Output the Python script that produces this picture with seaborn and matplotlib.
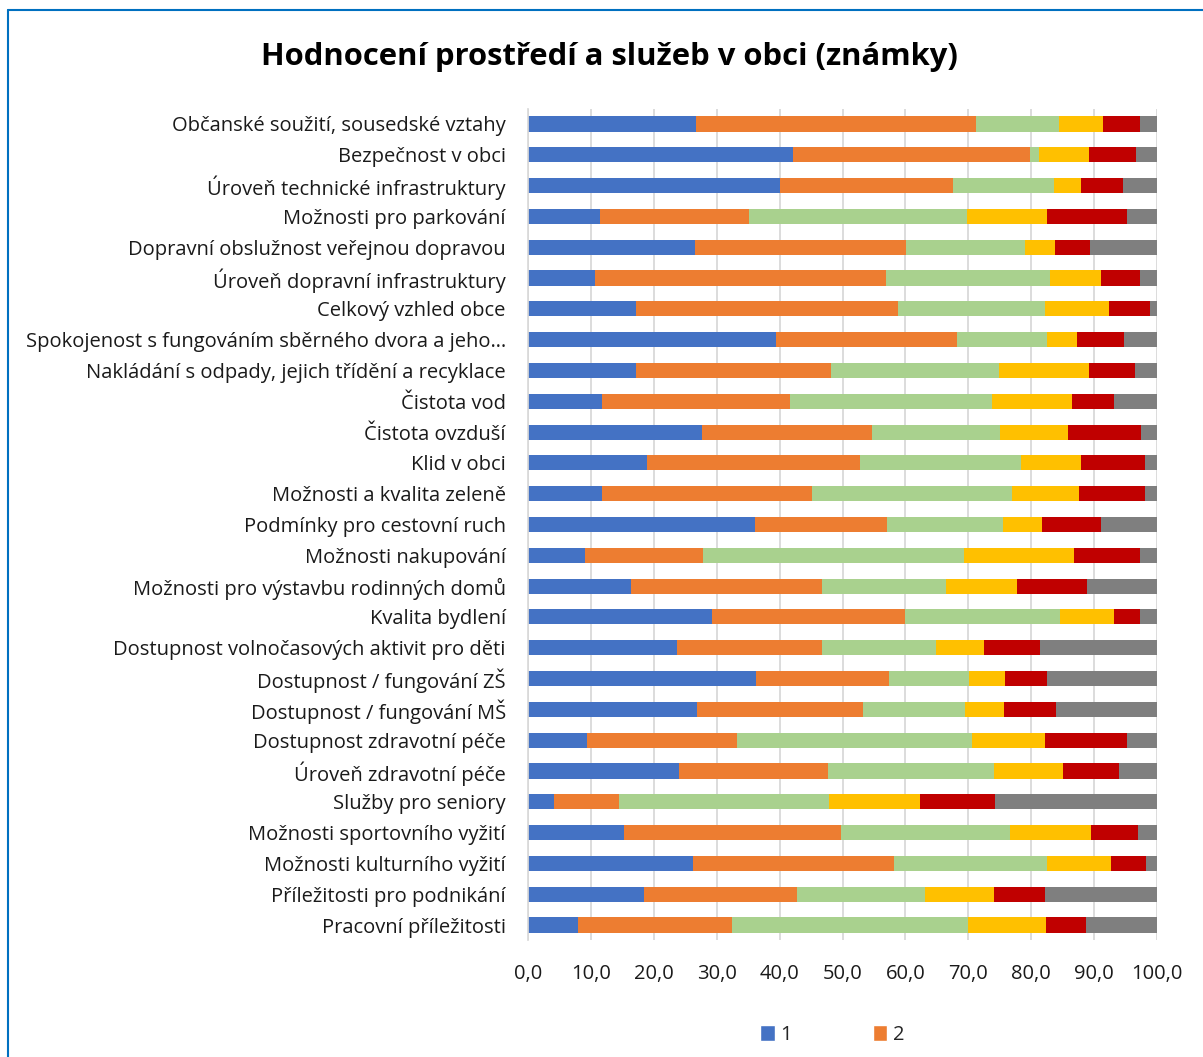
import numpy as np
import pandas as pd
import matplotlib
matplotlib.use("Agg")
import matplotlib.pyplot as plt
from matplotlib.lines import Line2D
from matplotlib.patches import Patch
import seaborn as sns

# categories (top to bottom)
CATEGORIES = [
    "Občanské soužití, sousedské vztahy",
    "Bezpečnost v obci",
    "Úroveň technické infrastruktury",
    "Možnosti pro parkování",
    "Dopravní obslužnost veřejnou dopravou",
    "Úroveň dopravní infrastruktury",
    "Celkový vzhled obce",
    "Spokojenost s fungováním sběrného dvora a jeho…",
    "Nakládání s odpady, jejich třídění a recyklace",
    "Čistota vod",
    "Čistota ovzduší",
    "Klid v obci",
    "Možnosti a kvalita zeleně",
    "Podmínky pro cestovní ruch",
    "Možnosti nakupování",
    "Možnosti pro výstavbu rodinných domů",
    "Kvalita bydlení",
    "Dostupnost volnočasových aktivit pro děti",
    "Dostupnost / fungování ZŠ",
    "Dostupnost / fungování MŠ",
    "Dostupnost zdravotní péče",
    "Úroveň zdravotní péče",
    "Služby pro seniory",
    "Možnosti sportovního vyžití",
    "Možnosti kulturního vyžití",
    "Příležitosti pro podnikání",
    "Pracovní příležitosti",
]

# share of answers per grade (%)
GRADE_1 = [26.7, 42.1, 40.1, 11.4, 26.6, 10.6, 17.1, 39.4, 17.2, 11.8, 27.7, 18.9, 11.8, 36.1,
           9.0, 16.4, 29.2, 23.7, 36.3, 26.8, 9.3, 24.0, 4.1, 15.3, 26.3, 18.4, 7.9]
GRADE_2 = [44.5, 37.7, 27.4, 23.8, 33.5, 46.3, 41.7, 28.8, 31.0, 29.8, 27.0, 33.8, 33.3, 21.0,
           18.8, 30.4, 30.7, 23.1, 21.1, 26.4, 23.9, 23.7, 10.4, 34.4, 31.9, 24.4, 24.6]
GRADE_3 = [13.2, 1.4, 16.1, 34.6, 18.9, 26.0, 23.3, 14.3, 26.7, 32.2, 20.3, 25.6, 31.9, 18.4,
           41.5, 19.6, 24.7, 18.1, 12.7, 16.3, 37.4, 26.3, 33.3, 26.9, 24.3, 20.3, 37.5]
GRADE_4 = [7.0, 7.9, 4.3, 12.7, 4.8, 8.1, 10.3, 4.8, 14.3, 12.7, 10.8, 9.6, 10.5, 6.2,
           17.5, 11.3, 8.6, 7.6, 5.7, 6.1, 11.5, 11.1, 14.5, 12.9, 10.2, 10.9, 12.3]
GRADE_5 = [5.8, 7.6, 6.7, 12.7, 5.6, 6.3, 6.5, 7.5, 7.2, 6.7, 11.7, 10.2, 10.6, 9.3,
           10.4, 11.1, 4.1, 8.9, 6.7, 8.3, 13.1, 8.9, 11.9, 7.4, 5.6, 8.2, 6.4]
NEVIM = [2.8, 3.3, 5.4, 4.8, 10.6, 2.7, 1.1, 5.2, 3.6, 6.8, 2.5, 1.9, 1.9, 9.0,
         2.8, 11.2, 2.7, 18.6, 17.5, 16.1, 4.8, 6.0, 25.8, 3.1, 1.7, 17.8, 11.3]

SERIES = ["1", "2", "3", "4", "5", "nevím"]
COLORS = ["#4472C4", "#ED7D31", "#A9D18E", "#FFC000", "#C00000", "#7F7F7F"]

df = pd.DataFrame({"Oblast": CATEGORIES, "1": GRADE_1, "2": GRADE_2, "3": GRADE_3,
                   "4": GRADE_4, "5": GRADE_5, "nevím": NEVIM})
# normalise each row to 100 % and build cumulative totals for stacking
vals = df[SERIES].to_numpy()
vals = vals / vals.sum(axis=1, keepdims=True) * 100
cum = np.cumsum(vals, axis=1)

sns.set_theme(style="white")
plt.rcParams["font.family"] = ["Open Sans", "DejaVu Sans"]

fig = plt.figure(figsize=(12.03, 10.57), dpi=100)
ax = fig.add_axes([0.4389, 0.1103, 0.5230, 0.7870])

# draw cumulative bars from the longest to the shortest -> stacked look
for i in reversed(range(len(SERIES))):
    sns.barplot(x=cum[:, i], y=df["Oblast"], color=COLORS[i], orient="h",
                width=0.49, saturation=1, ax=ax, linewidth=0)

ax.set_xlim(0, 100)
ax.set_xticks(np.arange(0, 101, 10))
ax.set_xticklabels([f"{v:.1f}".replace(".", ",") for v in range(0, 101, 10)])
ax.set_xlabel("")
ax.set_ylabel("")
ax.set_ylim(len(CATEGORIES) - 0.5, -0.5)
ax.grid(axis="x", color="#D9D9D9", linewidth=1.3)
ax.set_axisbelow(True)
for s in ["top", "right", "bottom"]:
    ax.spines[s].set_visible(False)
ax.spines["left"].set_color("#D9D9D9")
ax.tick_params(axis="y", labelsize=14.5, length=0, pad=16, colors="#1a1a1a")
ax.tick_params(axis="x", labelsize=14.5, length=0, pad=17, colors="#1a1a1a")

fig.text(0.507, 0.946, "Hodnocení prostředí a služeb v obci (známky)",
         ha="center", va="center", fontsize=22.3, fontweight="bold", color="black")

handles = [Patch(facecolor=COLORS[i], label=SERIES[i]) for i in range(2)]
fig.legend(handles=handles, loc="center", bbox_to_anchor=(0.692, 0.021), ncol=2,
           frameon=False, fontsize=14.5, handlelength=0.7, handleheight=0.9,
           handletextpad=0.3, columnspacing=4.0)

# chart frame (top and left edge visible)
fig.add_artist(Line2D([0.0066, 1.0], [0.9905, 0.9905], color="#0070C0", linewidth=1.5,
                      transform=fig.transFigure))
fig.add_artist(Line2D([0.0066, 0.0066], [0.0, 0.9905], color="#0070C0", linewidth=1.5,
                      transform=fig.transFigure))

fig.savefig("out.png", dpi=100)
